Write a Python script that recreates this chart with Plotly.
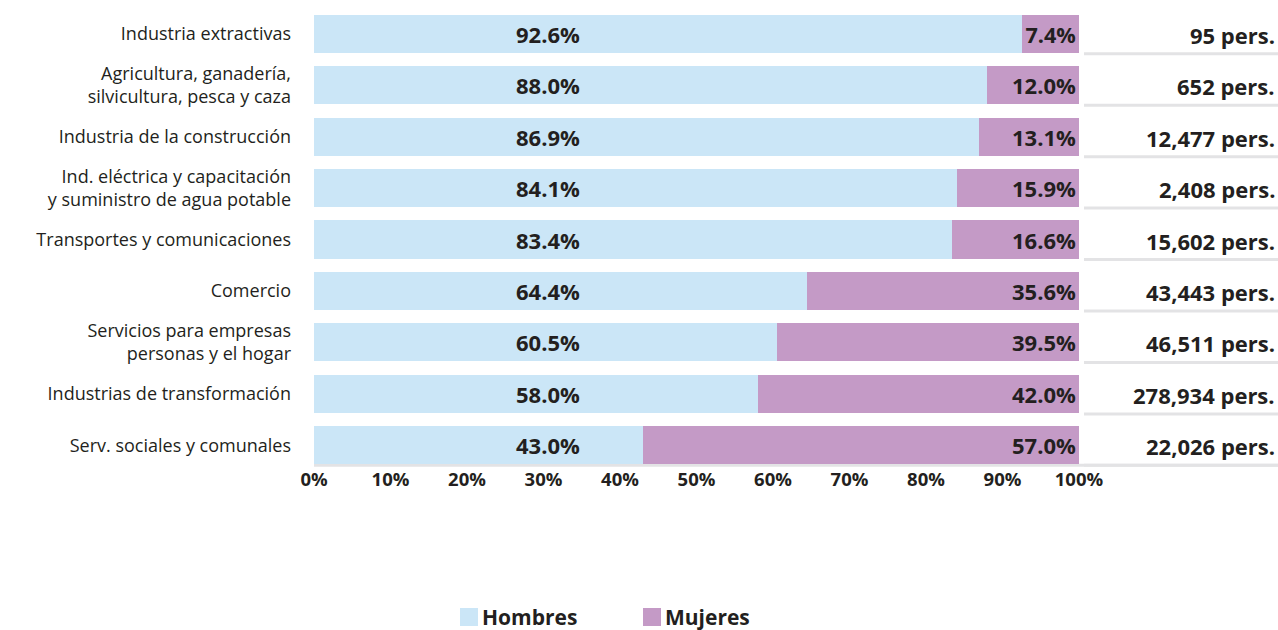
import plotly.graph_objects as go

categorias = [
    "Industria extractivas",
    "Agricultura, ganadería,<br>silvicultura, pesca y caza",
    "Industria de la construcción",
    "Ind. eléctrica y capacitación<br>y suministro de agua potable",
    "Transportes y comunicaciones",
    "Comercio",
    "Servicios para empresas<br>personas y el hogar",
    "Industrias de transformación",
    "Serv. sociales y comunales",
]
hombres = [92.6, 88.0, 86.9, 84.1, 83.4, 64.4, 60.5, 58.0, 43.0]
mujeres = [7.4, 12.0, 13.1, 15.9, 16.6, 35.6, 39.5, 42.0, 57.0]
totales = ["95", "652", "12,477", "2,408", "15,602", "43,443", "46,511",
           "278,934", "22,026"]
ticks = [0, 10, 20, 30, 40, 50, 60, 70, 80, 90, 100]

AZUL = "#cbe6f7"
MORADO = "#c49ac6"
TXT = "#231f20"
GRIS = "#e3e3e5"
FONT = "Open Sans"

W, H = 1278, 630
L, R = 314, 1079
T, B = 8, 471

fig = go.Figure()
fig.add_trace(go.Bar(
    y=categorias, x=hombres, orientation="h", name="Hombres",
    marker=dict(color=AZUL, line=dict(width=0)), width=0.74,
    hoverinfo="skip",
))
fig.add_trace(go.Bar(
    y=categorias, x=mujeres, orientation="h", name="Mujeres",
    marker=dict(color=MORADO, line=dict(width=0)), width=0.74,
    text=[f"{v:.1f}%" for v in mujeres], textposition="inside",
    insidetextanchor="end", textangle=0,
    textfont=dict(family=FONT, size=22, color=TXT, weight="bold"),
    hoverinfo="skip",
))

pw = R - L
ph = B - T


def px_x(x):
    return (x - L) / pw


def px_y(y):
    return (B - y) / ph


for i, (cat, h, tot) in enumerate(zip(categorias, hombres, totales)):
    # etiqueta de hombres en posición fija (~30.6% del eje)
    fig.add_annotation(
        xref="x", yref="y", x=30.6, y=cat, text=f"<b>{h:.1f}%</b>",
        showarrow=False, font=dict(family=FONT, size=22, color=TXT),
    )
    fig.add_annotation(
        xref="paper", yref="y", x=px_x(1277), y=i,
        text=f"<b>{tot} pers.</b>", showarrow=False, xanchor="right",
        yshift=-1, font=dict(family=FONT, size=22, color=TXT),
    )
    fig.add_shape(
        type="line", xref="paper", yref="y",
        x0=px_x(1084), x1=px_x(W), y0=i + 0.39, y1=i + 0.39,
        line=dict(color=GRIS, width=3), layer="below",
    )
fig.add_shape(
    type="line", xref="paper", yref="y",
    x0=0, x1=px_x(W), y0=len(totales) - 1 + 0.39,
    y1=len(totales) - 1 + 0.39, line=dict(color=GRIS, width=3), layer="below",
)

# leyenda dibujada a mano (cuadros grandes pegados al texto)
for name, color, x0 in [("Hombres", AZUL, 460), ("Mujeres", MORADO, 643)]:
    fig.add_shape(
        type="rect", xref="paper", yref="paper",
        x0=px_x(x0), x1=px_x(x0 + 18), y0=px_y(626), y1=px_y(608),
        fillcolor=color, line=dict(width=0),
    )
    fig.add_annotation(
        xref="paper", yref="paper", x=px_x(x0 + 20), y=px_y(617),
        text=f"<b>{name}</b>", showarrow=False, xanchor="left",
        yanchor="middle", font=dict(family=FONT, size=21, color=TXT),
    )

fig.update_layout(
    width=W, height=H, barmode="stack", bargap=0.26,
    margin=dict(l=L, r=W - R, t=T, b=H - B, pad=0),
    paper_bgcolor="white", plot_bgcolor="white",
    font=dict(family=FONT, color=TXT),
    showlegend=False,
)
fig.update_xaxes(
    range=[0, 100], tickvals=ticks, ticktext=[f"{t}%" for t in ticks],
    showgrid=False, zeroline=False, showline=False, ticks="",
    ticklabelstandoff=-5,
    tickfont=dict(family=FONT, size=18.5, color=TXT, weight="bold"),
    fixedrange=True,
)
fig.update_yaxes(
    autorange="reversed", showgrid=False, zeroline=False, showline=False,
    ticks="", ticklabelstandoff=22,
    tickfont=dict(family=FONT, size=18, color=TXT),
    fixedrange=True,
)

fig.write_html("out.html", config={"displayModeBar": False},
               post_script="document.body.style.margin='0';")
